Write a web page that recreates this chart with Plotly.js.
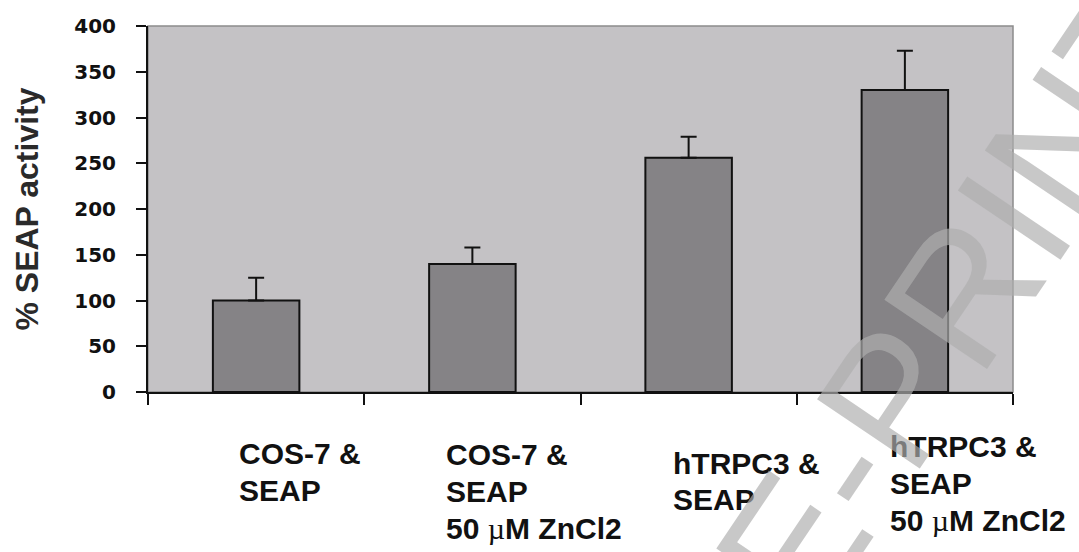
<!DOCTYPE html>
<html>
<head>
<meta charset="utf-8">
<script src="https://cdn.plot.ly/plotly-3.0.1.min.js"></script>
<style>html,body{margin:0;padding:0;background:#fff;}#chart{width:1079px;height:552px;}</style>
</head>
<body>
<div id="chart"></div>
<script>
// Data
var categories = ["COS-7 & SEAP", "COS-7 & SEAP 50 µM ZnCl2", "hTRPC3 & SEAP", "hTRPC3 & SEAP 50 µM ZnCl2"];
var MU = "<span style=\"font-family:'Liberation Serif';font-weight:normal\">µ</span>";
var categoryLabelLines = [
  ["COS-7 &", "SEAP"],
  ["COS-7 &", "SEAP", "50 " + MU + "M ZnCl2"],
  ["hTRPC3 &", "SEAP"],
  ["hTRPC3 &", "SEAP", "50 " + MU + "M ZnCl2"]
];
var seapActivity = [100, 140, 256, 330];
var seapError = [25, 18, 23, 43];
var yTickValues = [0, 50, 100, 150, 200, 250, 300, 350, 400];
var yAxisTitle = "% SEAP activity";
var watermarkText = "PRE-PRINT";

// label placement (style only): left offset from category centre, first-line centre in px, line step
var labelXShift = [-19, -28, -18, -17];
var labelFirstLinePx = [453, 454, 463, 446];
var lineStep = 37;

var H = 552, T = 26, B = 160;
var plotH = H - T - B;
function pyToPaper(py){ return (H - B - py) / plotH; }

var trace = {
  type: 'bar',
  x: categories,
  y: seapActivity,
  width: 0.4,
  marker: {color: '#858386', line: {color: '#111111', width: 2}},
  error_y: {
    type: 'data', symmetric: false,
    array: seapError,
    arrayminus: seapError.map(function(){return 0;}),
    color: '#111111', thickness: 2, width: 8
  },
  hoverinfo: 'none'
};

var annotations = [];
categories.forEach(function(c, i){
  categoryLabelLines[i].forEach(function(line, j){
    annotations.push({
      xref: 'x', yref: 'paper', x: c,
      y: pyToPaper(labelFirstLinePx[i] + j * lineStep),
      xanchor: 'left', yanchor: 'middle', xshift: labelXShift[i],
      align: 'left', showarrow: false,
      text: line,
      font: {family: 'Liberation Sans', size: 30, color: '#111111', weight: 'bold'}
    });
  });
});

annotations.push({
  xref: 'paper', yref: 'paper', x: (890 - 148) / 865, y: pyToPaper(400),
  xanchor: 'center', yanchor: 'middle', showarrow: false,
  text: watermarkText, textangle: -56,
  font: {family: 'Liberation Sans', size: 180, color: 'rgba(174,174,174,0.68)'}
});

var layout = {
  width: 1079, height: 552,
  margin: {l: 148, r: 66, t: T, b: B, pad: 0},
  paper_bgcolor: '#ffffff',
  plot_bgcolor: '#c4c2c5',
  showlegend: false,
  bargap: 0.6,
  xaxis: {
    type: 'category', range: [-0.5, 3.5],
    showticklabels: false, tickson: 'boundaries',
    ticks: 'outside', ticklen: 11, tickwidth: 2, tickcolor: '#111111',
    showline: true, linecolor: '#111111', linewidth: 2,
    showgrid: false, zeroline: false, fixedrange: true
  },
  yaxis: {
    range: [0, 400], tickvals: yTickValues,
    ticks: 'outside', ticklen: 10, tickwidth: 2, tickcolor: '#111111',
    ticklabelstandoff: 16,
    tickfont: {family: 'DejaVu Sans', size: 20, color: '#111111', weight: 'bold'},
    showline: true, linecolor: '#111111', linewidth: 2,
    showgrid: false, zeroline: false, fixedrange: true,
    title: {text: yAxisTitle, standoff: 26,
      font: {family: 'Liberation Sans', size: 32, color: '#2a2a2a', weight: 'bold'}}
  },
  shapes: [{
    type: 'rect', xref: 'paper', yref: 'paper', x0: 0, x1: 1, y0: 0, y1: 1,
    line: {color: '#8c8c8c', width: 1.5}, layer: 'below'
  }],
  annotations: annotations
};

Plotly.newPlot('chart', [trace], layout, {displayModeBar: false, staticPlot: true});
</script>
</body>
</html>
